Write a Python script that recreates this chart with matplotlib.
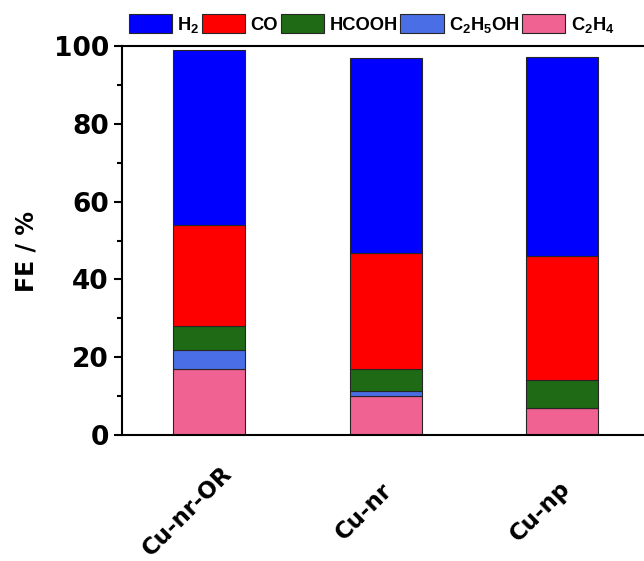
import matplotlib
matplotlib.use("Agg")
import matplotlib.pyplot as plt
import matplotlib.transforms as mtransforms
from matplotlib.ticker import MultipleLocator
import numpy as np

# Faradaic efficiency per product for each catalyst (%)
catalysts = ["Cu-nr-OR", "Cu-nr", "Cu-np"]
fe_c2h4 = [17.0, 10.1, 7.0]
fe_c2h5oh = [4.9, 1.3, 0.0]
fe_hcooh = [6.2, 5.6, 7.2]
fe_co = [25.8, 29.9, 31.9]
fe_h2 = [45.1, 50.1, 51.1]

product_labels = [r"$\mathbf{H_2}$", "CO", "HCOOH", r"$\mathbf{C_2H_5OH}$", r"$\mathbf{C_2H_4}$"]
product_colors = ["#0000FF", "#FF0000", "#1F6A14", "#4A6EE6", "#F06292"]

plt.rcParams["mathtext.fontset"] = "custom"
plt.rcParams["mathtext.bf"] = "Liberation Sans:bold"
plt.rcParams["mathtext.rm"] = "Liberation Sans"

fig = plt.figure(figsize=(6.44, 5.61), dpi=100)
ax = fig.add_axes([122 / 644, 126 / 561, 538 / 644, 389 / 561])

x = np.arange(len(catalysts))
width = 0.408
series = [fe_h2, fe_co, fe_hcooh, fe_c2h5oh, fe_c2h4]
stack_order = [4, 3, 2, 1, 0]  # bottom to top: C2H4, C2H5OH, HCOOH, CO, H2

handles = [None] * len(series)
bottom = np.zeros(len(catalysts))
for i in stack_order:
    vals = np.array(series[i])
    h = ax.bar(x, vals, width, bottom=bottom, color=product_colors[i],
               edgecolor="#262626", linewidth=0.8, label=product_labels[i])
    handles[i] = h
    bottom += vals

ax.set_xlim(-0.493, 2.555)
ax.set_ylim(0, 100)

for side in ["left", "bottom", "top"]:
    ax.spines[side].set_linewidth(1.5)
ax.spines["right"].set_visible(False)

ax.yaxis.set_major_locator(MultipleLocator(20))
ax.yaxis.set_minor_locator(MultipleLocator(10))
ax.tick_params(axis="y", which="major", direction="out", length=6, width=1.5,
               pad=3.5, labelsize=19)
ax.tick_params(axis="y", which="minor", direction="out", length=3.6, width=1.5)
for lbl in ax.get_yticklabels():
    lbl.set_fontweight("bold")

ax.set_xticks(x)
ax.set_xticklabels(catalysts, rotation=45, ha="center", va="center",
                   rotation_mode="anchor", fontsize=16.5, fontweight="bold")
ax.tick_params(axis="x", which="both", length=0, pad=55)
shift = mtransforms.ScaledTranslation(-22 / 100, 0, fig.dpi_scale_trans)
for lbl in ax.get_xticklabels():
    lbl.set_transform(lbl.get_transform() + shift)

ax.set_ylabel("FE / %", fontsize=17, fontweight="bold")
ax.yaxis.set_label_coords(-0.156, 0.473)

fig.legend(handles, product_labels, loc="center left",
           bbox_to_anchor=(112 / 644, 1 - 24.5 / 561), ncol=5, frameon=False,
           prop={"family": "Liberation Sans", "weight": "bold", "size": 13.2},
           handlelength=2.35, handleheight=1.25, handletextpad=0.3,
           columnspacing=0.15, borderpad=0.4)

fig.savefig("out.png", dpi=100)
